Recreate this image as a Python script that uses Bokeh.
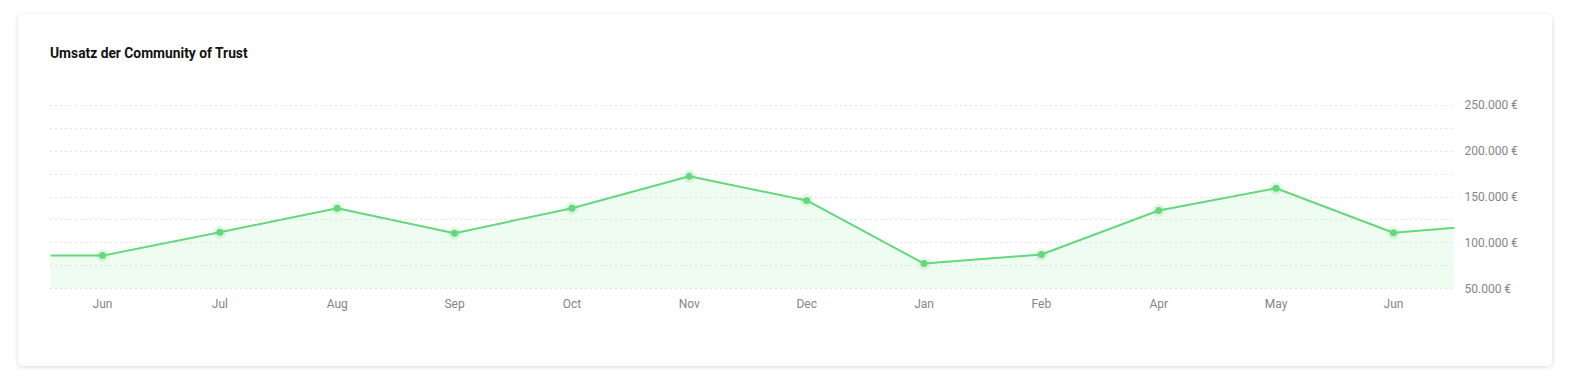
from bokeh.plotting import figure
from bokeh.models import FixedTicker, ColumnDataSource, Range1d, Div
from bokeh.layouts import column
from bokeh.embed import file_html
from bokeh.resources import INLINE

# ---- data ----
title_text = "Umsatz der Community of Trust"
months = ["Jun", "Jul", "Aug", "Sep", "Oct", "Nov", "Dec", "Jan", "Feb", "Apr", "May", "Jun"]
revenue = [86000, 111500, 137800, 110400, 137800, 172700, 146200, 77300, 87200, 135300, 159600, 110900]
# neighbouring values just outside the visible window
prev_value = 86000
next_value = 121400
y_ticks = [50000, 100000, 150000, 200000, 250000]
y_labels = ["50.000 €", "100.000 €", "150.000 €", "200.000 €", "250.000 €"]
grid_step = 25000

n = len(months)
xs = list(range(-1, n + 1))
ys = [prev_value] + revenue + [next_value]
src = ColumnDataSource(dict(x=xs, y=ys, base=[y_ticks[0]] * len(xs)))
pts = ColumnDataSource(dict(x=list(range(n)), y=revenue))

LINE = "#64d87c"
FONT = "Roboto"
pad = 1000

title = Div(text=title_text, width=1534, height=70, margin=0,
            styles={"font-family": "Roboto, sans-serif", "font-size": "13.8px", "font-weight": "bold",
                    "color": "#111111", "padding-left": "32px", "padding-top": "31px",
                    "box-sizing": "border-box", "line-height": "16px"})

p = figure(width=1534, height=282, output_backend="svg", toolbar_location=None,
           x_range=Range1d(-0.443, n - 1 + 0.52),
           y_range=Range1d(y_ticks[0] - pad, y_ticks[-1] + pad),
           y_axis_location="right", min_border_left=32, min_border_right=98,
           min_border_top=20, min_border_bottom=77, margin=0)
p.border_fill_color = "white"
p.background_fill_color = "white"
p.outline_line_color = None

# area + line + markers
p.varea(x="x", y1="base", y2="y", source=src, fill_color="#e9fbed", fill_alpha=0.75)
p.line(x="x", y="y", source=src, line_color=LINE, line_width=2)
p.scatter(x="x", y="y", source=pts, size=13, fill_color=LINE, fill_alpha=0.18, line_color=None)
p.scatter(x="x", y="y", source=pts, size=7, fill_color=LINE, line_color=None)

# grid (drawn above the area fill)
p.xgrid.grid_line_color = None
p.ygrid.ticker = FixedTicker(ticks=list(range(y_ticks[0], y_ticks[-1] + 1, grid_step)))
p.ygrid.grid_line_color = "#c9c9c9"
p.ygrid.grid_line_dash = "1 4"
p.ygrid.grid_line_width = 1
p.ygrid.level = "guide"

# y axis (right)
ya = p.yaxis[0]
ya.ticker = FixedTicker(ticks=y_ticks)
ya.major_label_overrides = {t: l for t, l in zip(y_ticks, y_labels)}
ya.axis_line_color = None
ya.major_tick_line_color = None
ya.minor_tick_line_color = None
ya.major_tick_out = 0
ya.major_tick_in = 0
ya.major_label_text_font = FONT
ya.major_label_text_font_size = "12px"
ya.major_label_text_color = "#858585"
ya.major_label_text_baseline = "alphabetic"
ya.major_label_standoff = 10

# x axis
xa = p.xaxis[0]
xa.ticker = FixedTicker(ticks=list(range(n)))
xa.major_label_overrides = {i: m for i, m in enumerate(months)}
xa.axis_line_color = None
xa.major_tick_line_color = None
xa.minor_tick_line_color = None
xa.major_tick_out = 0
xa.major_tick_in = 0
xa.major_label_text_font = FONT
xa.major_label_text_font_size = "12px"
xa.major_label_text_color = "#858585"
xa.major_label_standoff = 7

card = column(title, p, width=1534, height=352, margin=(14, 0, 0, 18), spacing=0,
              styles={"background-color": "white", "border-radius": "5px",
                      "box-shadow": "0 1px 4px rgba(0,0,0,0.16)", "overflow": "hidden"})

html = file_html(card, INLINE)
html = html.replace("<body>", '<body style="background-color:#f4f7f8;">', 1)
open("out.html", "w").write(html)
